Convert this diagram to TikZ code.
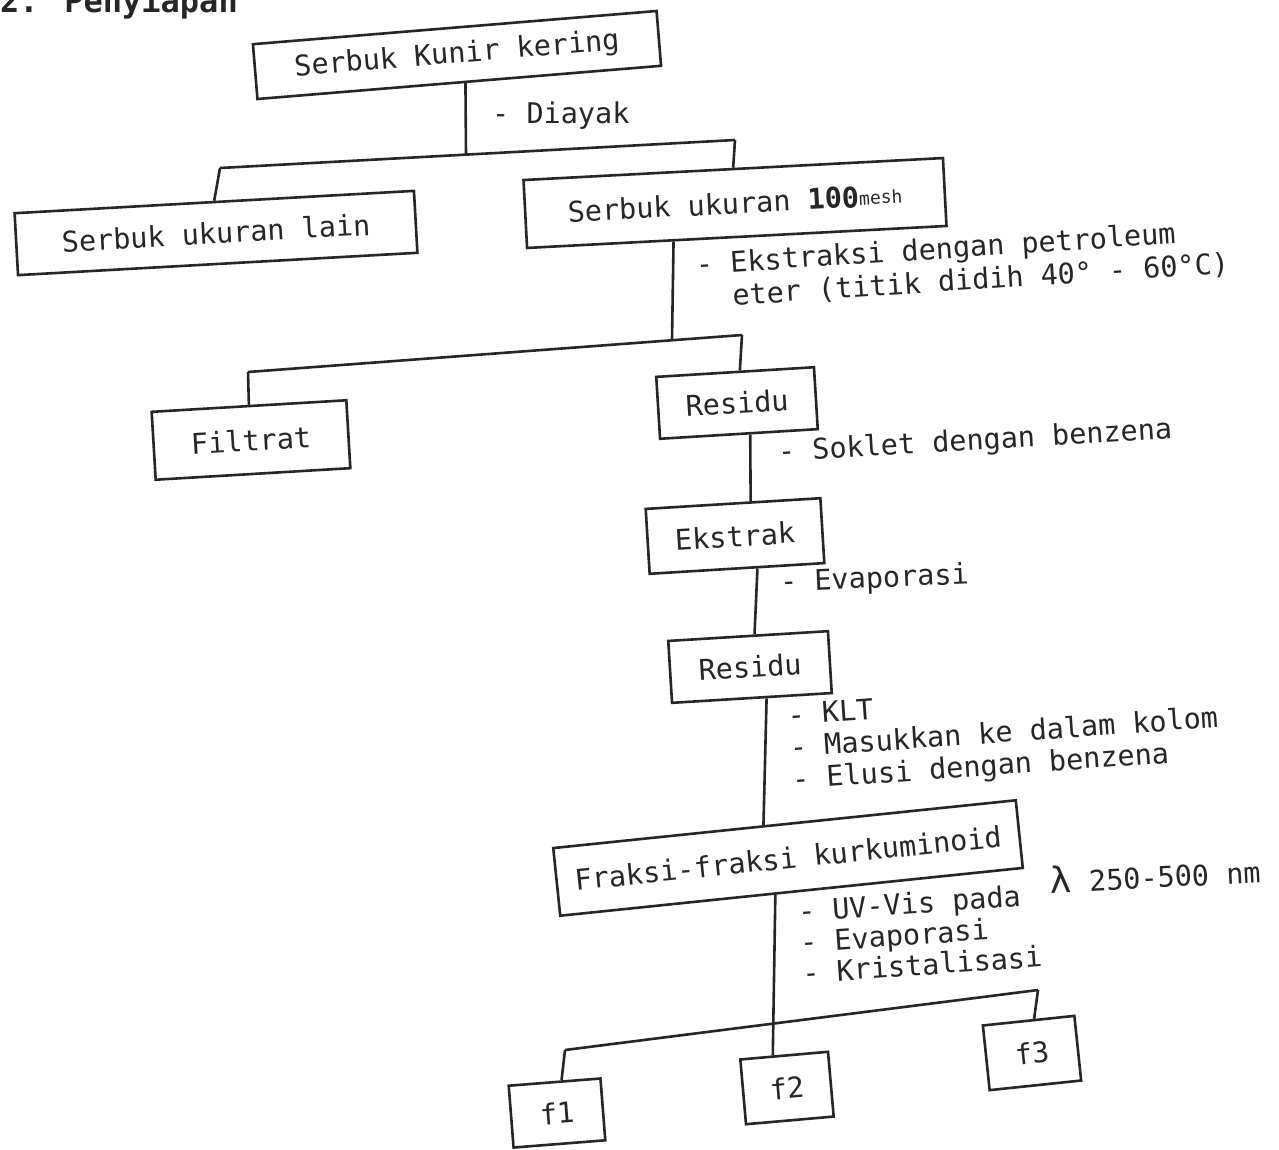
\documentclass[tikz,border=0pt]{standalone}
\usepackage{fontspec}
\setmainfont{DejaVu Sans Mono}
\usetikzlibrary{calc}
\begin{document}
\begin{tikzpicture}[x=1pt,y=-1pt,
  font=\fontsize{28.5}{33}\selectfont,
  every node/.style={text=black!85},
  box/.style={draw=black!85, line width=2.6pt, inner sep=0pt},
  lbl/.style={anchor=west, align=left, inner sep=0pt, rotate=4},
  conn/.style={draw=black!85, line width=2.6pt}]
\useasboundingbox (0,0) rectangle (1279,1149);
\clip (0,0) rectangle (1279,1149);
\fill[white] (0,0) rectangle (1279,1149);

% header (cut off by the page edge)
\node[anchor=base west, inner sep=0pt, font=\fontsize{32}{34}\selectfont\bfseries] (hdr) at (0,12) {2. Penyiapan};

% boxes
\node[box, rotate=4.7, minimum width=405, minimum height=55] (k1) at (457,55) {Serbuk Kunir kering};
\node[box, rotate=3.2, minimum width=400, minimum height=62] (lain) at (216,233) {Serbuk ukuran lain};
\node[box, rotate=3.0, minimum width=420, minimum height=68] (m100) at (735,203) {Serbuk ukuran {\bfseries 100}{\fontsize{18}{20}\selectfont\raisebox{2pt}{mesh}}};
\node[box, rotate=3.4, minimum width=195, minimum height=68] (filtrat) at (251,440) {Filtrat};
\node[box, rotate=3.5, minimum width=158, minimum height=62] (res1) at (737,403) {Residu};
\node[box, rotate=3.5, minimum width=175, minimum height=65] (ekstrak) at (735,536) {Ekstrak};
\node[box, rotate=3.5, minimum width=160, minimum height=62] (res2) at (750,667) {Residu};
\node[box, rotate=5.9, minimum width=465, minimum height=68] (fraksi) at (788,858) {Fraksi-fraksi kurkuminoid};
\node[box, rotate=4.5, minimum width=92, minimum height=62] (f1) at (557,1113) {f1};
\node[box, rotate=5.0, minimum width=88, minimum height=65] (f2) at (787,1088) {f2};
\node[box, rotate=6.0, minimum width=92, minimum height=65] (f3) at (1032,1053) {f3};

% junction coordinates
\coordinate (b1l) at (220,168);
\coordinate (b1r) at (735,140);
\coordinate (j1) at (466,155);
\coordinate (b2l) at (248,372);
\coordinate (b2r) at (742,335);
\coordinate (j2) at (672,340);
\coordinate (b3l) at (565,1050);
\coordinate (b3r) at (1038,990);

% connectors
\draw[conn] ($(k1.south)!0.03!(k1.south east)$) -- (j1);
\draw[conn] (b1l) -- (b1r);
\draw[conn] (b1l) -- (lain.north);
\draw[conn] (b1r) -- (m100.north);
\draw[conn] ($(m100.south)!0.3!(m100.south west)$) -- (j2);
\draw[conn] (b2l) -- (b2r);
\draw[conn] (b2l) -- (filtrat.north);
\draw[conn] (b2r) -- ($(res1.north)!0.06!(res1.north east)$);
\draw[conn] ($(res1.south)!0.14!(res1.south east)$) -- ($(ekstrak.north)!0.2!(ekstrak.north east)$);
\draw[conn] ($(ekstrak.south)!0.23!(ekstrak.south east)$) -- ($(res2.north)!0.08!(res2.north east)$);
\draw[conn] ($(res2.south)!0.18!(res2.south east)$) -- ($(fraksi.north)!0.09!(fraksi.north west)$);
\draw[conn] ($(fraksi.south)!0.07!(fraksi.south west)$) -- ($(f2.north)!0.25!(f2.north west)$);
\draw[conn] (b3l) -- (b3r);
\draw[conn] (b3l) -- ($(f1.north)!0.15!(f1.north east)$);
\draw[conn] (b3r) -- ($(f3.north)!0.12!(f3.north east)$);

% labels
\node[lbl, rotate=-4] (ldiayak) at (492,116) {- Diayak};
\node[lbl, rotate=-0.3] (lekstraksi) at (697,282) {- Ekstraksi dengan petroleum\\\phantom{- }eter (titik didih 40° - 60°C)};
\node[lbl, rotate=-0.6] (lsoklet) at (778,454) {- Soklet dengan benzena};
\node[lbl, rotate=-1.5] (levap) at (780,584) {- Evaporasi};
\node[lbl, font=\fontsize{28.5}{32}\selectfont] (lklt) at (790,750) {- KLT\\- Masukkan ke dalam kolom\\- Elusi dengan benzena};
\node[lbl, font=\fontsize{28.5}{31}\selectfont] (luv) at (800,942) {- UV-Vis pada\\- Evaporasi\\- Kristalisasi};
\node[lbl, rotate=-1] (llambda) at (1050,880) {{\fontsize{36}{36}\selectfont λ} 250-500 nm};
\end{tikzpicture}
\end{document}
